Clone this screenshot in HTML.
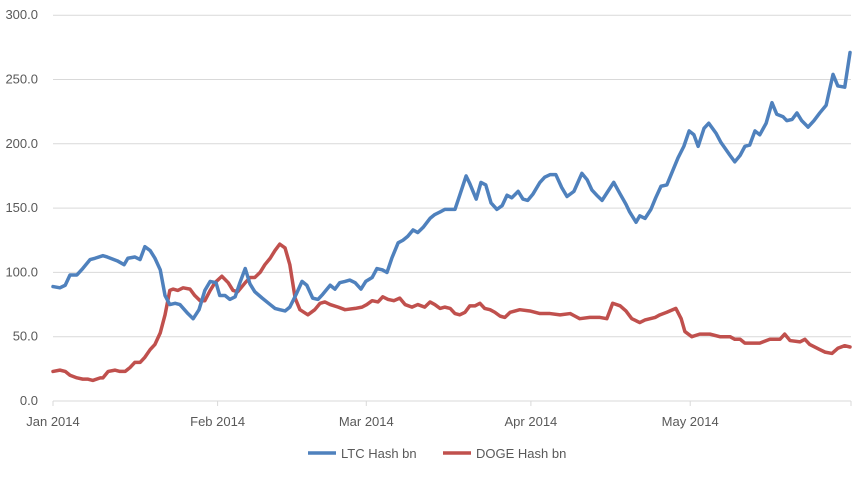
<!DOCTYPE html>
<html><head><meta charset="utf-8"><style>
body{margin:0;background:#fff;}
svg text{font-family:"Liberation Sans",sans-serif;font-size:13px;fill:#595959;}
</style></head><body>
<svg width="867" height="477" id="c"></svg>
<script>
const yTicks=[0,50,100,150,200,250,300];
const yTickLabels=["0.0","50.0","100.0","150.0","200.0","250.0","300.0"];
const monthDays=[0,31,59,90,120];
const monthLabels=["Jan 2014","Feb 2014","Mar 2014","Apr 2014","May 2014"];
const ltcDays=[0,1.3,2.3,3.2,4.5,5.6,7.0,7.9,9.4,10.2,12.1,13.4,14.1,15.4,16.4,17.3,18.3,19.2,20.2,21.1,22.0,23.0,23.9,25.4,26.4,27.5,28.6,29.6,30.7,31.4,32.4,33.3,34.3,35.2,36.2,37.1,38.0,39.4,40.9,41.8,42.7,43.7,44.6,45.8,46.9,47.8,48.9,49.9,50.8,52.2,53.1,54.0,55.0,55.9,56.9,58.0,58.9,60.1,61.0,62.0,62.9,63.8,65.0,65.9,66.8,67.8,68.7,69.7,71.0,71.9,72.9,73.8,75.7,76.6,77.8,78.5,79.7,80.6,81.5,82.5,83.6,84.6,85.5,86.4,87.6,88.5,89.4,90.4,91.7,92.6,93.6,94.7,95.8,96.8,98.1,99.6,100.6,101.5,102.4,103.4,104.5,105.6,106.8,107.9,108.6,109.8,110.5,111.5,112.6,113.5,114.5,115.6,116.6,117.7,118.8,119.8,120.7,121.5,122.6,123.5,124.9,125.8,127.5,128.4,129.4,130.3,131.2,132.2,133.1,134.3,135.4,136.3,137.5,138.2,139.2,140.1,141.0,142.2,143.3,144.4,145.6,146.9,147.8,149.1,150.1];
const ltcVals=[89,88,90,98,98,103,110,111,113,112,109,106,111,112,110,120,117,111,102,82,75,76,75,68,64,71,86,93,92,82,82,79,81,92,103,91,85,80,75,72,71,70,73,83,93,90,80,79,83,90,87,92,93,94,92,87,93,96,103,102,100,111,123,125,128,133,131,135,142,145,147,149,149,160,175,169,157,170,168,154,149,152,160,158,163,157,156,161,170,174,176,176,166,159,163,177,172,164,160,156,163,170,161,153,147,139,144,142,149,158,167,168,178,189,198,210,207,198,212,216,208,201,191,186,191,198,199,210,207,216,232,223,221,218,219,224,218,213,218,224,230,254,245,244,271];
const dogeDays=[0,1.3,2.3,3.2,4.5,5.6,6.6,7.5,8.9,9.4,10.4,11.7,12.6,13.6,14.5,15.4,16.4,17.3,18.3,19.2,20.2,21.1,22.0,22.6,23.5,24.5,25.8,26.7,27.7,28.6,29.6,30.5,31.8,33.0,33.9,34.8,36.2,37.1,38.0,39.0,39.9,40.9,41.8,42.7,43.7,44.6,45.6,46.5,48.0,49.3,50.3,51.2,52.2,53.7,55.0,56.9,58.2,59.1,60.1,61.2,62.1,63.1,64.2,65.3,66.3,67.6,68.7,70.0,71.0,71.9,72.9,73.8,74.8,75.7,76.6,77.6,78.5,79.5,80.4,81.3,82.3,83.2,84.2,85.1,86.1,87.9,89.8,91.7,93.6,95.5,97.4,98.3,99.2,101.1,103.0,104.3,105.4,106.8,107.9,109.0,110.5,111.5,113.4,114.3,115.6,117.3,118.3,119.0,120.3,121.8,123.7,125.6,127.5,128.4,129.4,130.3,133.1,135.0,136.9,137.8,138.8,140.7,141.6,142.5,144.4,145.4,146.7,147.8,149.1,150.1];
const dogeVals=[23,24,23,20,18,17,17,16,18,18,23,24,23,23,26,30,30,34,40,44,53,67,86,87,86,88,87,82,78,78,86,92,97,92,86,85,92,96,96,100,106,111,117,122,119,106,80,71,67,71,76,77,75,73,71,72,73,75,78,77,81,79,78,80,75,73,75,73,77,75,72,73,72,68,67,69,74,74,76,72,71,69,66,65,69,71,70,68,68,67,68,66,64,65,65,64,76,74,70,64,61,63,65,67,69,72,64,54,50,52,52,50,50,48,48,45,45,48,48,52,47,46,48,44,40,38,37,41,43,42];
const NS="http://www.w3.org/2000/svg";
const svg=document.getElementById('c');
const X0=53,PXD=5.31,Y0=401,PXV=1.286;
const xs=d=>X0+d*PXD, ys=v=>Y0-v*PXV;
function mk(t,a){const e=document.createElementNS(NS,t);for(const k in a)e.setAttribute(k,a[k]);svg.appendChild(e);return e;}
yTicks.forEach((v,i)=>{
  if(v>0){const g=mk('line',{x1:X0,x2:851,y1:ys(v),y2:ys(v),stroke:'#d9d9d9','stroke-width':1});
  
  }
  const t=mk('text',{x:38,y:ys(v)+4,'text-anchor':'end'});t.textContent=yTickLabels[i];
  
  
});
const ax=mk('line',{x1:X0,x2:851,y1:Y0,y2:Y0,stroke:'#d9d9d9','stroke-width':1});


monthDays.forEach((d,i)=>{
  const tk=mk('line',{x1:xs(d),x2:xs(d),y1:Y0,y2:Y0+5,stroke:'#d9d9d9'});
  
  
  const t=mk('text',{x:xs(d),y:426,'text-anchor':'middle'});t.textContent=monthLabels[i];
  
  
});
const tk2=mk('line',{x1:851,x2:851,y1:Y0,y2:Y0+5,stroke:'#d9d9d9'});


function series(days,vals,col,name){
  const p=mk('polyline',{points:days.map((d,i)=>xs(d)+','+ys(vals[i])).join(' '),fill:'none',stroke:col,'stroke-width':3.5,'stroke-linejoin':'round','stroke-linecap':'round'});
  
  
}
series(dogeDays,dogeVals,'#C0504D','doge-line');
series(ltcDays,ltcVals,'#4F81BD','ltc-line');
function leg(x,col,label,name){
  const l=mk('line',{x1:x,x2:x+28,y1:453,y2:453,stroke:col,'stroke-width':3.5});
  
  
  const t=mk('text',{x:x+33,y:458});t.textContent=label;
  
  
}
leg(308,'#4F81BD','LTC Hash bn','legend-ltc');
leg(443,'#C0504D','DOGE Hash bn','legend-doge');
</script>
</body></html>
